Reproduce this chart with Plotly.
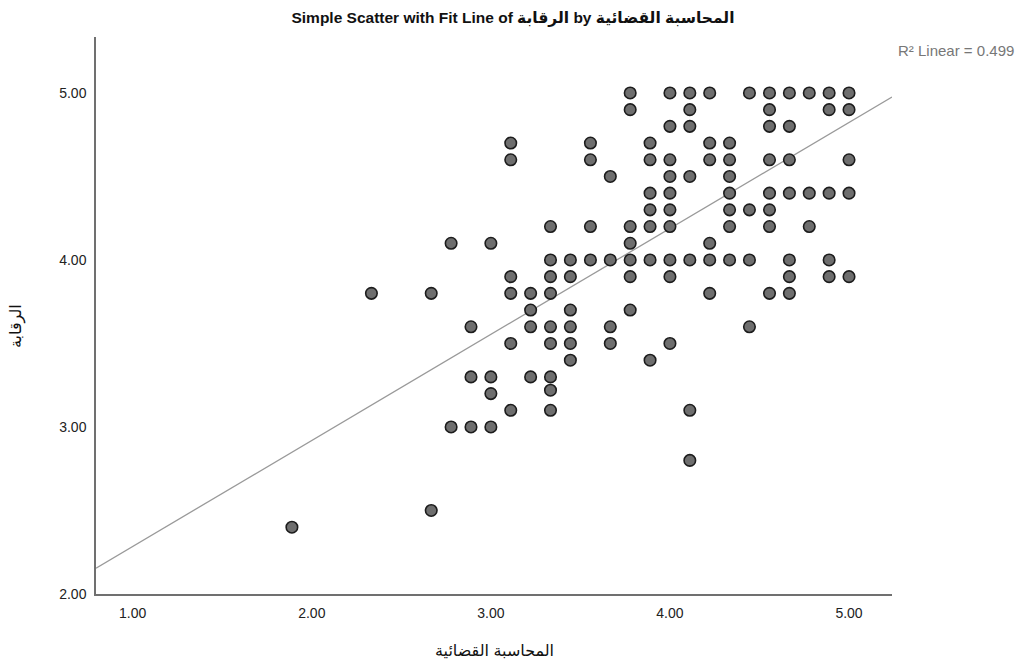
import plotly.graph_objects as go

# ---- data ----
x_vals = (
    [1.889]
    + [2.333]
    + [2.667] * 2
    + [2.778] * 2
    + [2.889] * 3
    + [3.0] * 4
    + [3.111] * 6
    + [3.222] * 4
    + [3.333] * 9
    + [3.444] * 6
    + [3.556] * 4
    + [3.667] * 4
    + [3.778] * 7
    + [3.889] * 7
    + [4.0] * 10
    + [4.111] * 7
    + [4.222] * 6
    + [4.333] * 7
    + [4.444] * 4
    + [4.556] * 8
    + [4.667] * 7
    + [4.778] * 3
    + [4.889] * 5
    + [5.0] * 5
)
y_vals = [
    2.4,
    3.8,
    3.8, 2.5,
    4.1, 3.0,
    3.6, 3.3, 3.0,
    4.1, 3.3, 3.2, 3.0,
    4.7, 4.6, 3.9, 3.8, 3.5, 3.1,
    3.8, 3.7, 3.6, 3.3,
    4.2, 4.0, 3.9, 3.8, 3.6, 3.5, 3.3, 3.22, 3.1,
    4.0, 3.9, 3.7, 3.6, 3.5, 3.4,
    4.7, 4.6, 4.2, 4.0,
    4.5, 4.0, 3.6, 3.5,
    5.0, 4.9, 4.2, 4.1, 4.0, 3.9, 3.7,
    4.7, 4.6, 4.4, 4.3, 4.2, 4.0, 3.4,
    5.0, 4.8, 4.6, 4.5, 4.4, 4.3, 4.2, 4.0, 3.9, 3.5,
    5.0, 4.9, 4.8, 4.5, 4.0, 3.1, 2.8,
    5.0, 4.7, 4.6, 4.1, 4.0, 3.8,
    4.7, 4.6, 4.5, 4.4, 4.3, 4.2, 4.0,
    5.0, 4.3, 4.0, 3.6,
    5.0, 4.9, 4.8, 4.6, 4.4, 4.3, 4.2, 3.8,
    5.0, 4.8, 4.6, 4.4, 4.0, 3.9, 3.8,
    5.0, 4.4, 4.2,
    5.0, 4.9, 4.4, 4.0, 3.9,
    5.0, 4.9, 4.6, 4.4, 3.9,
]

fit_intercept = 1.650
fit_slope = 0.6347
r2_text = "R² Linear = 0.499"

x_range = [0.795, 5.24]
y_range = [2.0, 5.335]
tick_vals = [1, 2, 3, 4, 5]
y_tick_vals = [2, 3, 4, 5]

title_text = "Simple Scatter with Fit Line of الرقابة by المحاسبة القضائية"
x_title = "المحاسبة القضائية"
y_title = "الرقابة"

FONT = "Liberation Sans, Arial, DejaVu Sans, sans-serif"

# page body has an 8px default margin, so the figure is laid out 8px up/left
OFF = 8
W, H = 1026, 664
ML, MT = 96 - OFF, 37 - OFF
PW, PH = 796, 557

fig = go.Figure()

fit_x = [x_range[0], x_range[1]]
fit_y = [fit_intercept + fit_slope * v for v in fit_x]
fig.add_trace(go.Scatter(
    x=fit_x, y=fit_y, mode="lines",
    line=dict(color="#9a9a9a", width=1.3),
    hoverinfo="skip", showlegend=False,
))

fig.add_trace(go.Scatter(
    x=x_vals, y=y_vals, mode="markers",
    marker=dict(size=11.5, color="#6e6e6e", line=dict(color="#1c1c1c", width=1.6)),
    showlegend=False,
))

fig.update_layout(
    width=W, height=H,
    margin=dict(l=ML, r=W - ML - PW, t=MT, b=H - MT - PH),
    paper_bgcolor="white", plot_bgcolor="white",
    font=dict(family=FONT, color="#222222"),
    title=dict(
        text="<b>" + title_text + "</b>",
        x=0.5 - OFF / W, xref="container", xanchor="center",
        y=1 - (18 - OFF) / H, yref="container", yanchor="middle",
        font=dict(size=15.5, color="#111111", family=FONT),
    ),
    xaxis=dict(
        range=x_range, tickvals=tick_vals, ticktext=[f"{v:.2f}" for v in tick_vals],
        showgrid=False, zeroline=False, showline=True, linecolor="#707070", linewidth=1.5,
        ticks="", ticklabelstandoff=5, tickfont=dict(size=14, color="#222222"),
        mirror=False,
    ),
    yaxis=dict(
        range=y_range, tickvals=y_tick_vals, ticktext=[f"{v:.2f}" for v in y_tick_vals],
        showgrid=False, zeroline=False, showline=True, linecolor="#707070", linewidth=1.5,
        ticks="", ticklabelstandoff=5, tickfont=dict(size=14, color="#222222"),
    ),
    annotations=[
        dict(text=x_title, xref="paper", yref="paper", x=0.5, y=(594 - 650) / PH,
             xanchor="center", yanchor="middle", showarrow=False,
             font=dict(size=16, color="#111111", family=FONT)),
        dict(text=y_title, xref="paper", yref="paper", x=(17 - 96) / PW, y=(594 - 326) / PH,
             xanchor="center", yanchor="middle", showarrow=False, textangle=-90,
             font=dict(size=16, color="#111111", family=FONT)),
        dict(text=r2_text, xref="paper", yref="paper", x=(896 - 96) / PW, y=(594 - 50) / PH,
             xanchor="left", yanchor="middle", showarrow=False,
             font=dict(size=15, color="#777777", family=FONT)),
    ],
)

fig.write_html("out.html")
